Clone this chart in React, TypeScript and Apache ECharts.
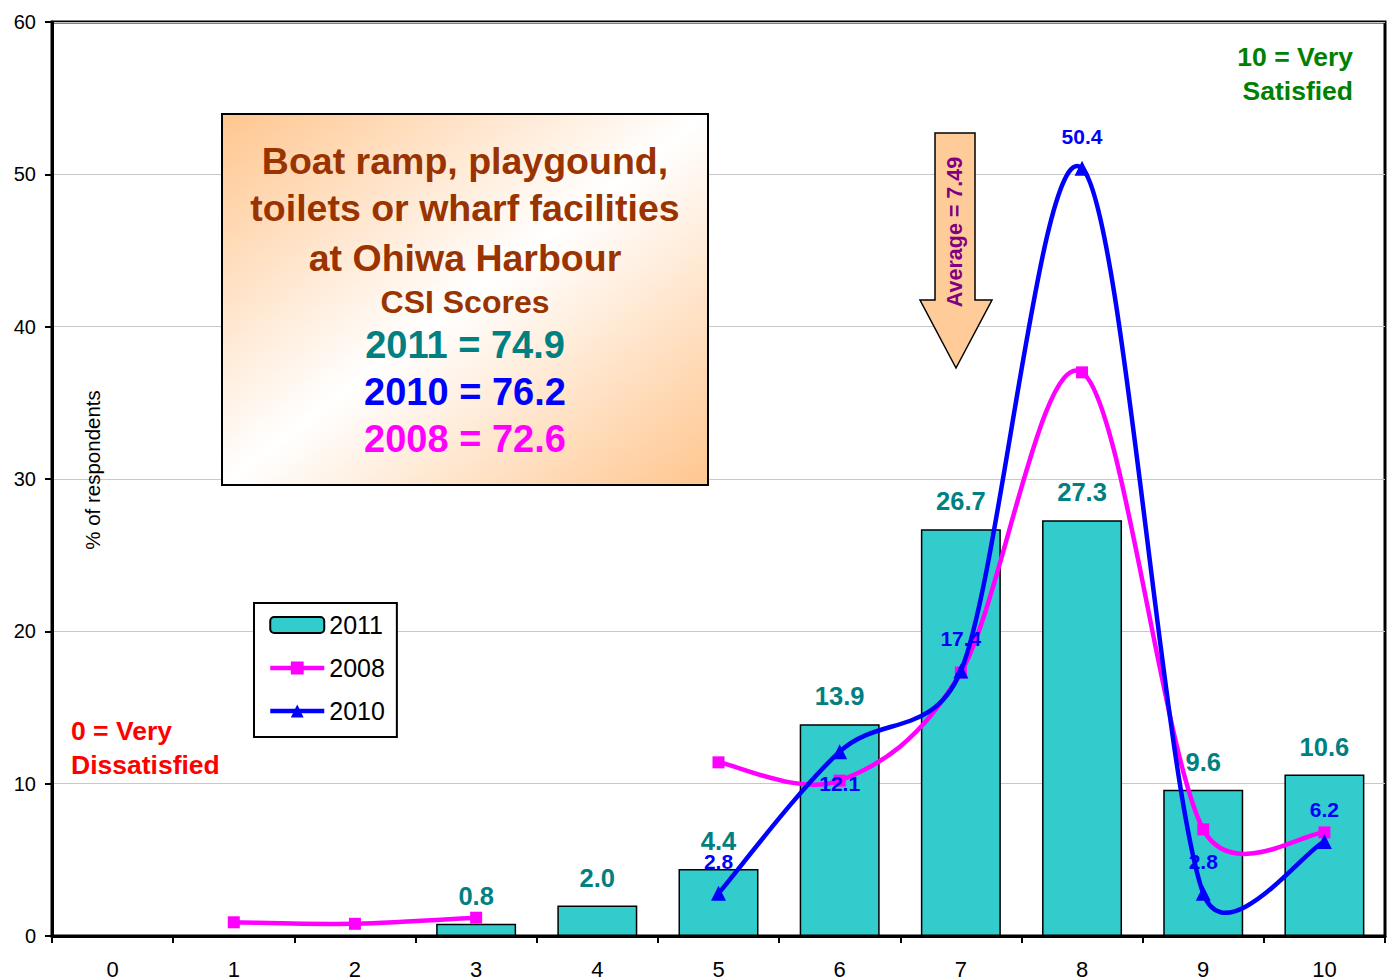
import React, { useEffect, useRef } from "react";
import * as echarts from "echarts";

const FONT = '"Liberation Sans", Arial, Helvetica, sans-serif';

const categories = ["0", "1", "2", "3", "4", "5", "6", "7", "8", "9", "10"];
const values2011: (number | null)[] = [null, null, null, 0.8, 2.0, 4.4, 13.9, 26.7, 27.3, 9.6, 10.6];
const values2008: (number | null)[] = [null, 0.9, 0.8, 1.2, null, 11.4, 10.2, 17.3, 37.0, 7.0, 6.8];
const values2010: (number | null)[] = [null, null, null, null, null, 2.8, 12.1, 17.4, 50.4, 2.8, 6.2];
const yTicks = { min: 0, max: 60, interval: 10 };

const titleLines = ["Boat ramp, playgound,", "toilets or wharf facilities", "at Ohiwa Harbour"];
const subTitle = "CSI Scores";
const scoreLines = [
  { text: "2011 = 74.9", color: "#008080" },
  { text: "2010 = 76.2", color: "#0000FF" },
  { text: "2008 = 72.6", color: "#FF00FF" },
];
const averageText = "Average = 7.49";

// Excel-like smoothed segment drawn through the chart's own coordinate system
function smoothCurve(values: (number | null)[], color: string, width: number) {
  return (params: any, api: any) => {
    const i = params.dataIndex;
    if (values[i] == null || values[i + 1] == null) return null;
    const p1 = api.coord([i, values[i]]);
    const p2 = api.coord([i + 1, values[i + 1]]);
    const p0 = i - 1 >= 0 && values[i - 1] != null ? api.coord([i - 1, values[i - 1]]) : p1;
    const p3 = i + 2 < values.length && values[i + 2] != null ? api.coord([i + 2, values[i + 2]]) : p2;
    const seg = Math.hypot(p2[0] - p1[0], p2[1] - p1[1]);
    const ctl = (a: number[], b: number[]) => {
      let vx = (b[0] - a[0]) / 6;
      let vy = (b[1] - a[1]) / 6;
      const len = Math.hypot(vx, vy);
      const lim = seg / 2;
      if (len > lim && len > 0) {
        vx = (vx / len) * lim;
        vy = (vy / len) * lim;
      }
      return [vx, vy];
    };
    const v1 = ctl(p0, p2);
    const v2 = ctl(p1, p3);
    return {
      type: "bezierCurve",
      shape: {
        x1: p1[0],
        y1: p1[1],
        cpx1: p1[0] + v1[0],
        cpy1: p1[1] + v1[1],
        cpx2: p2[0] - v2[0],
        cpy2: p2[1] - v2[1],
        x2: p2[0],
        y2: p2[1],
      },
      style: { stroke: color, lineWidth: width, fill: "none", lineCap: "round" },
    };
  };
}

export default function App() {
  const ref = useRef<HTMLDivElement>(null);

  useEffect(() => {
    document.body.style.margin = "0";
    if (!ref.current) return;
    const chart = echarts.init(ref.current, null, { renderer: "svg" });

    const peach = "#FFC68F";
    const gradient = new echarts.graphic.LinearGradient(0, 0, 1, 1, [
      { offset: 0, color: peach },
      { offset: 0.5, color: "#FFFFFF" },
      { offset: 1, color: peach },
    ]);

    const titleYs = [161, 208, 258];
    const scoreYs = [345, 392, 439];

    const graphic: any[] = [
      {
        type: "rect",
        z: 100,
        shape: { x: 222, y: 114, width: 486, height: 371 },
        style: { fill: gradient, stroke: "#000", lineWidth: 2 },
      },
      ...titleLines.map((t, i) => ({
        type: "text",
        z: 101,
        x: 465,
        y: titleYs[i],
        style: {
          text: t,
          fill: "#993300",
          font: `bold 37.5px ${FONT}`,
          align: "center",
          verticalAlign: "middle",
        },
      })),
      {
        type: "text",
        z: 101,
        x: 465,
        y: 302,
        style: {
          text: subTitle,
          fill: "#993300",
          font: `bold 32px ${FONT}`,
          align: "center",
          verticalAlign: "middle",
        },
      },
      ...scoreLines.map((s, i) => ({
        type: "text",
        z: 101,
        x: 465,
        y: scoreYs[i],
        style: {
          text: s.text,
          fill: s.color,
          font: `bold 38px ${FONT}`,
          align: "center",
          verticalAlign: "middle",
        },
      })),
      {
        type: "polygon",
        z: 100,
        shape: {
          points: [
            [935, 133],
            [975, 133],
            [975, 300],
            [992, 300],
            [956, 368],
            [920, 300],
            [935, 300],
          ],
        },
        style: { fill: "#FFCC99", stroke: "#000", lineWidth: 1.5 },
      },
      {
        type: "text",
        z: 101,
        x: 955,
        y: 232,
        rotation: Math.PI / 2,
        style: {
          text: averageText,
          fill: "#800080",
          font: `bold 21.5px ${FONT}`,
          align: "center",
          verticalAlign: "middle",
        },
      },
      {
        type: "text",
        z: 101,
        x: 1353,
        y: 57,
        style: {
          text: "10 = Very",
          fill: "#008000",
          font: `bold 26.5px ${FONT}`,
          align: "right",
          verticalAlign: "middle",
        },
      },
      {
        type: "text",
        z: 101,
        x: 1353,
        y: 91,
        style: {
          text: "Satisfied",
          fill: "#008000",
          font: `bold 26.5px ${FONT}`,
          align: "right",
          verticalAlign: "middle",
        },
      },
      {
        type: "text",
        z: 101,
        x: 71,
        y: 731,
        style: {
          text: "0 = Very",
          fill: "#FF0000",
          font: `bold 26.5px ${FONT}`,
          align: "left",
          verticalAlign: "middle",
        },
      },
      {
        type: "text",
        z: 101,
        x: 71,
        y: 765,
        style: {
          text: "Dissatisfied",
          fill: "#FF0000",
          font: `bold 26.5px ${FONT}`,
          align: "left",
          verticalAlign: "middle",
        },
      },
      {
        type: "text",
        z: 101,
        x: 92,
        y: 470,
        rotation: Math.PI / 2,
        style: {
          text: "% of respondents",
          fill: "#000",
          font: `20.5px ${FONT}`,
          align: "center",
          verticalAlign: "middle",
        },
      },
    ];

    const labelFmt = (p: any) => {
      const v = Array.isArray(p.value) ? p.value[1] : p.value;
      return v == null ? "" : Number(v).toFixed(1);
    };

    const option: any = {
      animation: false,
      textStyle: { fontFamily: FONT },
      grid: {
        left: 52,
        right: 5,
        top: 22,
        bottom: 44,
        show: true,
        borderColor: "#000",
        borderWidth: 3,
        backgroundColor: "transparent",
      },
      legend: {
        data: [
          { name: "2011" },
          {
            name: "2008",
            lineStyle: { color: "#FF00FF", width: 4.5, opacity: 1 },
            itemStyle: { color: "#FF00FF", opacity: 1 },
          },
          {
            name: "2010",
            lineStyle: { color: "#0000FF", width: 4.5, opacity: 1 },
            itemStyle: { color: "#0000FF", opacity: 1 },
          },
        ],
        orient: "vertical",
        left: 254,
        top: 603,
        backgroundColor: "#fff",
        borderColor: "#000",
        borderWidth: 2,
        padding: [9, 12, 13, 14],
        itemGap: 17,
        itemWidth: 54,
        itemHeight: 16,
        z: 50,
        textStyle: { fontSize: 25, color: "#000", lineHeight: 26, fontFamily: FONT },
      },
      xAxis: {
        type: "category",
        data: categories,
        boundaryGap: true,
        axisLine: { lineStyle: { color: "#000", width: 3 } },
        axisTick: { show: true, length: 7, lineStyle: { color: "#000", width: 2 } },
        axisLabel: { fontSize: 22, color: "#000", margin: 22, fontFamily: FONT },
        splitLine: { show: false },
      },
      yAxis: {
        type: "value",
        min: yTicks.min,
        max: yTicks.max,
        interval: yTicks.interval,
        axisLine: { show: true, lineStyle: { color: "#000", width: 3 } },
        axisTick: { show: true, length: 7, lineStyle: { color: "#000", width: 2 } },
        axisLabel: { fontSize: 20, color: "#000", margin: 16, fontFamily: FONT },
        splitLine: { show: true, lineStyle: { color: "#C8C8C8", width: 1 } },
      },
      series: [
        {
          name: "2011",
          type: "bar",
          data: values2011,
          barWidth: "66%",
          itemStyle: { color: "#33CCCC", borderColor: "#000", borderWidth: 1.5 },
          label: {
            show: true,
            position: "top",
            distance: 15,
            color: "#008080",
            fontSize: 25.5,
            fontWeight: "bold",
            fontFamily: FONT,
            formatter: labelFmt,
          },
          z: 2,
        },
        {
          name: "2008 curve",
          type: "custom",
          renderItem: smoothCurve(values2008, "#FF00FF", 4.5),
          data: values2008.map((v, i) => [i, v]),
          encode: { x: 0, y: 1 },
          clip: false,
          silent: true,
          z: 3,
        },
        {
          name: "2008",
          type: "line",
          data: values2008,
          connectNulls: false,
          symbol: "rect",
          symbolSize: 12,
          lineStyle: { color: "#FF00FF", width: 0, opacity: 0 },
          itemStyle: { color: "#FF00FF" },
          z: 3,
        },
        {
          name: "2010 curve",
          type: "custom",
          renderItem: smoothCurve(values2010, "#0000FF", 4.5),
          data: values2010.map((v, i) => [i, v]),
          encode: { x: 0, y: 1 },
          clip: false,
          silent: true,
          z: 4,
        },
        {
          name: "2010",
          type: "line",
          data: values2010.map((v, i) =>
            i === 6 ? { value: v, label: { position: "bottom" } } : v
          ),
          connectNulls: false,
          symbol: "triangle",
          symbolSize: 15,
          lineStyle: { color: "#0000FF", width: 0, opacity: 0 },
          itemStyle: { color: "#0000FF" },
          label: {
            show: true,
            position: "top",
            distance: 14,
            color: "#0000FF",
            fontSize: 21,
            fontWeight: "bold",
            fontFamily: FONT,
            formatter: labelFmt,
          },
          z: 4,
        },
      ],
      graphic,
    };

    chart.setOption(option);
    return () => chart.dispose();
  }, []);

  return <div ref={ref} style={{ width: 1390, height: 980 }} />;
}
